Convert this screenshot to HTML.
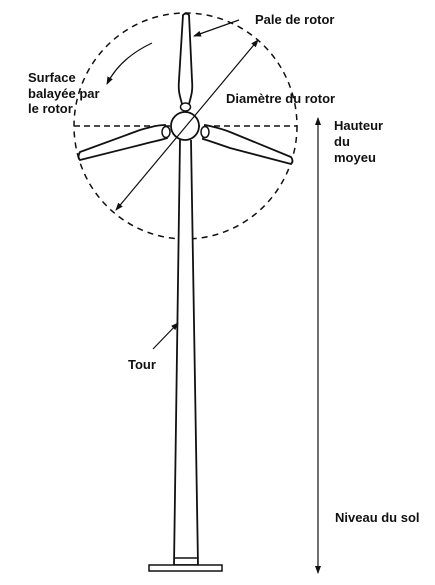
<!DOCTYPE html>
<html><head><meta charset="utf-8"><style>
html,body{margin:0;padding:0;background:#fff;width:435px;height:585px;overflow:hidden}
svg{display:block}
text{font-family:"Liberation Sans",sans-serif;font-weight:bold;font-size:13px;fill:#111}
</style></head><body>
<svg width="435" height="585" viewBox="0 0 435 585">
<defs>
<marker id="ah" markerWidth="8" markerHeight="8" refX="7" refY="4" orient="auto" markerUnits="userSpaceOnUse">
<path d="M0,1 L8,4 L0,7 Z" fill="#111"/></marker>
</defs>
<g stroke="#111" fill="none" stroke-width="1.5">
<ellipse cx="185.5" cy="126" rx="111.5" ry="113" stroke-dasharray="6,5"/>
<line x1="74" y1="126" x2="297" y2="126" stroke-dasharray="6,4"/>
<path d="M180,140 L174,565 L198,565 L191,140" fill="#fff" stroke-width="1.8"/>
<line x1="174.5" y1="558" x2="197.5" y2="558"/>
<rect x="149" y="565" width="73" height="6" fill="#fff"/>
<path d="M182,104 C180,96 178,92 179,80 L183,15 Q186,12 189,15 L192,80 C193,92 191,96 189,104 Z" fill="#fff" stroke-width="1.8"/>
<path d="M165,125 C160,125 150,127 140,130 L80,152 Q77,157 80,160 L140,145 C155,141 162,140 167,138 Z" fill="#fff" stroke-width="1.8"/>
<path d="M205,125 C210,126 220,128 230,132 L291,157 Q294,161 291,164 L230,148 C215,143 210,141 203,139 Z" fill="#fff" stroke-width="1.8"/>
<ellipse cx="185.5" cy="107" rx="5" ry="4" fill="#fff"/>
<ellipse cx="166" cy="132" rx="4" ry="5.5" fill="#fff"/>
<ellipse cx="205" cy="132" rx="4" ry="5.5" fill="#fff"/>
<circle cx="185" cy="126" r="14" fill="#fff" stroke-width="1.8"/>
<line x1="187" y1="125" x2="258" y2="40" marker-end="url(#ah)" stroke-width="1.2"/>
<line x1="187" y1="125" x2="116" y2="210" marker-end="url(#ah)" stroke-width="1.2"/>
<line x1="239" y1="20" x2="194" y2="36" marker-end="url(#ah)" stroke-width="1.2"/>
<path d="M152,43 Q120,58 107,84" marker-end="url(#ah)" stroke-width="1.2"/>
<line x1="318" y1="345" x2="318" y2="118" marker-end="url(#ah)" stroke-width="1.2"/>
<line x1="318" y1="345" x2="318" y2="573" marker-end="url(#ah)" stroke-width="1.2"/>
<line x1="153" y1="349" x2="178" y2="323" marker-end="url(#ah)" stroke-width="1.2"/>
</g>
<text x="255" y="24">Pale de rotor</text>
<text x="28" y="82">Surface</text>
<text x="28" y="98">balayée par</text>
<text x="28" y="113">le rotor</text>
<text x="226" y="103">Diamètre du rotor</text>
<text x="334" y="130">Hauteur</text>
<text x="334" y="146">du</text>
<text x="334" y="162">moyeu</text>
<text x="128" y="369">Tour</text>
<text x="335" y="522">Niveau du sol</text>
</svg>
</body></html>
